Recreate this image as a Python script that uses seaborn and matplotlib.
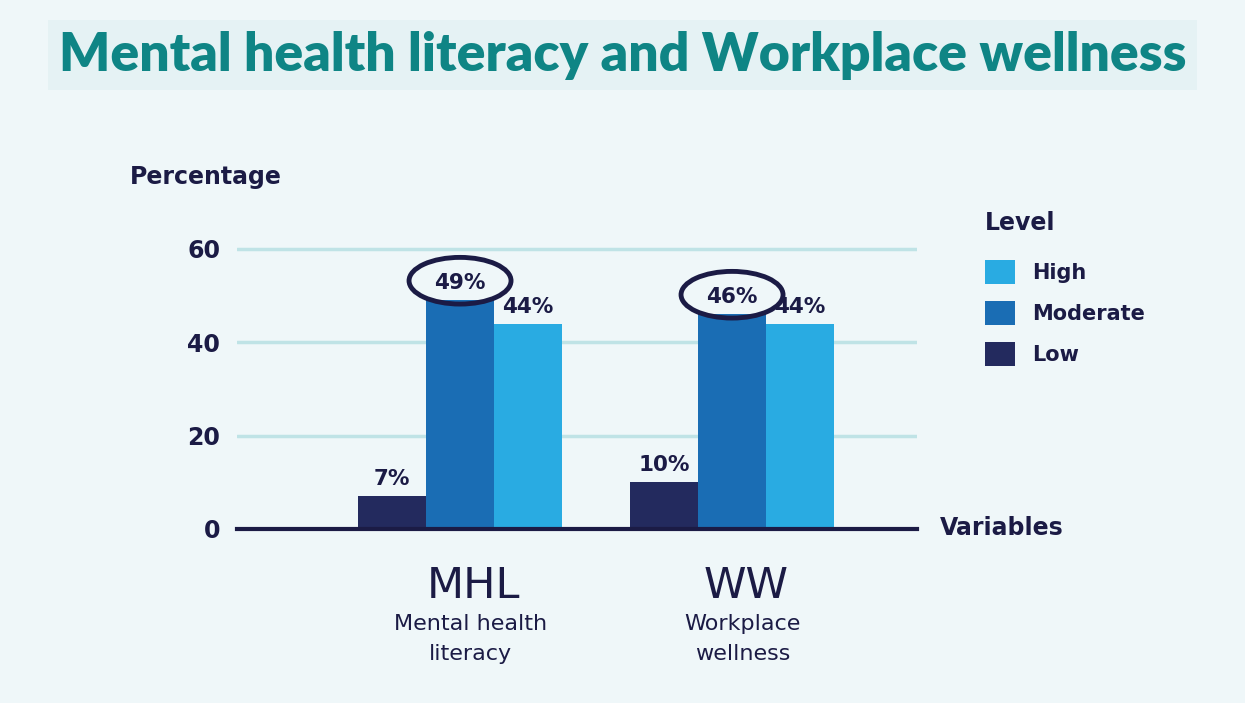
import numpy as np
import pandas as pd
import matplotlib
matplotlib.use("Agg")
import matplotlib.pyplot as plt
import seaborn as sns
from matplotlib.patches import Ellipse, Patch

# ---- data ----
variables = ["MHL", "WW"]
var_desc = ["Mental health\nliteracy", "Workplace\nwellness"]
levels = ["Low", "Moderate", "High"]
low_vals = [7, 10]
moderate_vals = [49, 46]
high_vals = [44, 44]
y_ticks = [0, 20, 40, 60]
highlight_level = "Moderate"

colors = {"Low": "#232a5e", "Moderate": "#1a6db4", "High": "#29abe2"}
dark = "#1b1b45"
teal = "#0f8585"
bg = "#eff7f9"

rows = []
for i, v in enumerate(variables):
    rows.append((v, "Low", low_vals[i]))
    rows.append((v, "Moderate", moderate_vals[i]))
    rows.append((v, "High", high_vals[i]))
df = pd.DataFrame(rows, columns=["variable", "level", "pct"])

sns.set_theme(style="white")
plt.rcParams["font.family"] = ["DejaVu Sans"]

fig = plt.figure(figsize=(12.45, 7.03), dpi=100, facecolor=bg)
ax = fig.add_axes([237 / 1245, 174 / 703, 680 / 1245, 0.4315])
ax.set_facecolor("none")

sns.barplot(data=df, x="variable", y="pct", hue="level", hue_order=levels,
            order=variables, palette=colors, width=0.75, gap=0.0,
            saturation=1, legend=False, ax=ax, linewidth=0)

ax.set_xlim(-0.82, 1.68)
ax.set_ylim(0, 65)
ax.set_yticks(y_ticks)
ax.set_yticklabels([str(t) for t in y_ticks], fontsize=17, fontweight="bold", color=dark)
ax.tick_params(axis="y", length=0, pad=12)
ax.set_xticks([])
ax.set_xlabel("")
ax.set_ylabel("")
for s in ["top", "right", "left"]:
    ax.spines[s].set_visible(False)
ax.spines["bottom"].set_color(dark)
ax.spines["bottom"].set_linewidth(3)
ax.yaxis.grid(True, color="#bfe3e6", linewidth=2.5)
ax.set_axisbelow(True)

# value labels
for cont, lvl in zip(ax.containers, levels):
    for bar in cont:
        h = bar.get_height()
        cx = bar.get_x() + bar.get_width() / 2
        ax.annotate(f"{h:.0f}%", (cx, h), xytext=(0, 5), textcoords="offset points",
                    ha="center", va="bottom", fontsize=15.5, fontweight="bold", color=dark)
        if lvl == highlight_level:
            ell = Ellipse((cx, h + 4.2), width=0.375, height=10, fill=False,
                          edgecolor=dark, linewidth=3.5, zorder=5, clip_on=False)
            ax.add_patch(ell)

# category labels
for i, (v, d) in enumerate(zip(variables, var_desc)):
    ax.text(i + 0.05, -0.12, v, transform=ax.get_xaxis_transform(), ha="center",
            va="top", fontsize=31, color=dark)
    ax.text(i + 0.04, -0.28, d, transform=ax.get_xaxis_transform(), ha="center",
            va="top", fontsize=16, color=dark, linespacing=1.6)

# axis titles
fig.text(130 / 1245, 1 - 177 / 703, "Percentage", fontsize=17, fontweight="bold",
         color=dark, ha="left", va="center")
fig.text(940 / 1245, 1 - 528 / 703, "Variables", fontsize=17, fontweight="bold",
         color=dark, ha="left", va="center")

# title
fig.text(0.5, 1 - 55 / 703, "Mental health literacy and Workplace wellness",
         fontsize=38.5, fontweight="heavy", color=teal, ha="center", va="center",
         family=["Lato", "DejaVu Sans"],
         bbox=dict(boxstyle="square,pad=0.2", facecolor="#e5f2f4", edgecolor="none"))

# legend
handles = [Patch(facecolor=colors[l], edgecolor="none", label=l) for l in ["High", "Moderate", "Low"]]
leg = fig.legend(handles=handles, loc="upper left", bbox_to_anchor=(970 / 1245, 1 - 196 / 703),
                 frameon=False, fontsize=15, title="Level", handlelength=1.45,
                 handleheight=1.45, labelspacing=0.78, handletextpad=0.85,
                 alignment="left", borderaxespad=0.3)
leg.get_title().set_fontsize(17)
leg.get_title().set_fontweight("bold")
leg.get_title().set_color(dark)
leg._legend_box.sep = 18
for t in leg.get_texts():
    t.set_color(dark)
    t.set_fontweight("bold")

fig.savefig("out.png", dpi=100, facecolor=bg)
